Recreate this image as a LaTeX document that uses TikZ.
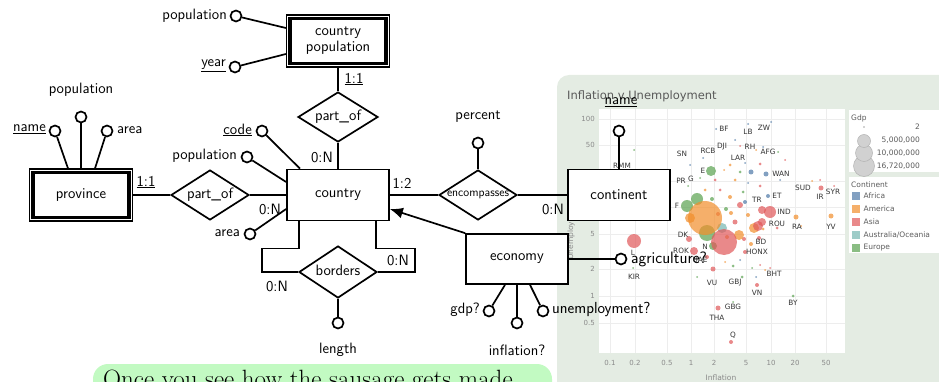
\documentclass[tikz,border=0pt]{standalone}
\usepackage{fontspec}
\newfontfamily\chartfont{DejaVu Sans}
\usetikzlibrary{shapes.geometric,arrows.meta}
\definecolor{panelbg}{HTML}{E4ECE3}
\definecolor{gridc}{HTML}{EDEDED}
\definecolor{tickc}{HTML}{8A8A8A}
\definecolor{labc}{HTML}{333333}
\definecolor{afr}{HTML}{4E79A7}
\definecolor{ame}{HTML}{F28E2B}
\definecolor{asi}{HTML}{E15759}
\definecolor{aus}{HTML}{76B7B2}
\definecolor{eur}{HTML}{59A14F}
\definecolor{notebg}{HTML}{C2FAC2}
\begin{document}
\begin{tikzpicture}[x=1pt,y=-1pt,
  erf/.style={font=\sffamily\fontsize{15}{18}\selectfont},
  erline/.style={line width=1.7pt},
  ent/.style={draw, line width=1.7pt, fill=white, minimum width=102pt, minimum height=51pt, inner sep=0pt, erf, align=center},
  wkouter/.style={draw, line width=1.2pt, fill=white, minimum width=103pt, minimum height=52pt, inner sep=0pt, erf, align=center},
  reldia/.style={diamond, draw, line width=1.7pt, fill=white, minimum width=78pt, minimum height=50pt, inner sep=0pt},
  attr/.style={circle, draw, line width=1.7pt, fill=white, minimum size=11pt, inner sep=0pt},
  tick/.style={font=\chartfont\fontsize{7}{8}\selectfont, text=tickc, inner sep=0pt},
  code/.style={font=\chartfont\fontsize{7.3}{8}\selectfont, text=labc, inner sep=0pt},
  leg/.style={font=\chartfont\fontsize{7.5}{8}\selectfont, text=labc!80, inner sep=0pt},
  bub/.style={fill opacity=0.7, draw=none}
]
\clip (0,0) rectangle (939,382);
% ---------------- chart panel ----------------
\fill[panelbg, rounded corners=12pt] (557,75) rectangle (980,420);
\node[anchor=west, font=\chartfont\fontsize{11.5}{13}\selectfont, text=black!65, inner sep=0pt] (ctitle) at (567,96) {Inflation v Unemployment};
\fill[white] (599,109) rectangle (845,353);
\foreach \gx in {610,635,667,691,714,746,771,795,826}
  \draw[gridc, line width=0.7pt] (\gx,109) -- (\gx,353);
\foreach \gy in {119,145,181,207,234,269,296,323}
  \draw[gridc, line width=0.7pt] (599,\gy) -- (845,\gy);
\foreach \gy/\t in {119/100,145/50,234/5,269/2,296/1,323/0.5}
  \node[tick, anchor=east] at (595,\gy) {\t};
\foreach \gx/\t in {610/0.1,635/0.2,667/0.5,691/1,714/2,746/5,771/10,795/20,826/50}
  \node[tick] at (\gx,363) {\t};
\node[tick, font=\chartfont\fontsize{7.5}{8}\selectfont] (xtitle) at (721,378) {Inflation};
\node[tick, font=\chartfont\fontsize{7.5}{8}\selectfont, rotate=90] (ytitle) at (571,231) {Unemployment};
% small dots
\foreach \px/\py/\pr/\pc in {716/129/1/afr,748/124/1/afr,771/122/1/afr,735/140/1/afr,740/146/1/asi,763/147/1/afr,756/150/1/ame,778/152/1/eur,703/158/1/afr,690/165/1/afr,730/165/1.5/ame,745/163/1/afr,760/164/1.5/asi,724/170/1/ame,740/172/1.5/eur,751/172/2.5/afr,700/178/1/eur,715/180/1.5/asi,735/180/1.5/ame,748/183/1/afr,760/186/1.5/asi,688/186/1/eur,705/190/1.5/ame,720/190/1.5/asi,743/192/1.5/eur,730/197/2/ame,712/199/2/eur,740/205/3/asi,745/202/2/afr,726/209/2/eur,718/214/2/asi,731/213/2/ame,748/215/2/ame,735/222/2.5/asi,727/237/2/ame,689/239/3/asi,744/239/2/asi,751/244/2/ame,759/238/2/asi,707/257/2/asi,713/269/2.5/asi,745/252/2/asi,725/262/1/ame,733/266/1.5/eur,740/260/1/afr,752/268/1/eur,760/265/1/asi,770/268/1/asi,697/277/1/eur,742/277/1.5/eur,756/277/1/afr,765/270/1/ame,718/308/2.5/asi,731/342/2/asi,757/285/2/asi,793/296/1.5/eur,733/302/1/eur,633/268/1/eur,634/150/1/eur,812/181/1/ame,820/180/1/asi,834/186/1/asi,801/226/1/ame,780/180/1/afr,785/160/1/asi,777/228/1.5/asi,763/229/1.5/ame,766/174/2.5/afr,768/196/2/afr,821/188/2.5/asi,796/217/2.5/ame,831/216/2.5/ame,762/210/4/asi,770/212/6/asi,762/222/4/asi,754/228/5/ame,758/226/5/asi,739/235/5/ame,722/228/5/aus,694/251/4/asi,713/246/4/eur,690/218/5/ame,711/171/5/eur,687/206/6/eur,697/199/6/eur,634/241/7/asi}
  \fill[\pc, bub] (\px,\py) circle (\pr);
\fill[eur, bub] (707,233) circle (8);
\fill[ame, bub] (705,218) circle (17);
\fill[asi, bub] (724,242) circle (13);
% country codes
\foreach \cx/\cy/\ct in {724/129/BF,748/132/LB,764/128/ZW,682/154/SN,708/151/RCB,722/147/DJI,750/147/RH,768/152/AFG,738/158/LAR,703/171/E,781/174/WAN,681/181/PR,691/179/G,803/188/SUD,820/197/IR,833/192/SYR,757/200/TR,777/196/ET,677/206/F,784/212/IND,777/224/ROU,797/227/RA,831/227/YV,683/235/DK,761/242/BD,705/247/N,681/251/ROK,757/252/HONX,633/253/L,700/260/UAE,634/277/KIR,774/274/BHT,712/283/VU,735/283/GBJ,757/293/VN,793/303/BY,733/307/GBG,717/318/THA,733/335/Q,622/166/RMM}
  \node[code] at (\cx,\cy) {\ct};
% legends
\fill[white] (849,110) rectangle (945,172);
\fill[white] (849,177) rectangle (945,253);
\node[leg, anchor=west] (gdpt) at (851,118) {Gdp};
\fill[black!35] (864,127) circle (0.9);
\node[leg, anchor=east] at (920,127) {2};
\filldraw[fill=black!18, draw=black!30, line width=0.5pt] (864,166) circle (10.5);
\filldraw[fill=black!18, draw=black!30, line width=0.5pt] (864,153) circle (8.5);
\filldraw[fill=black!18, draw=black!30, line width=0.5pt] (864,141) circle (6.5);
\node[leg, anchor=east] at (920,140) {5,000,000};
\node[leg, anchor=east] at (920,153) {10,000,000};
\node[leg, anchor=east] at (920,166) {16,720,000};
\node[leg, anchor=west] (contt) at (851,185) {Continent};
\foreach \ly/\lc/\lt in {196/afr/{Africa},209/ame/{America},222/asi/{Asia},235/aus/{Australia/Oceania},248/eur/{Europe}}{
  \fill[\lc, opacity=0.7] (852,\ly-4) rectangle (860,\ly+4);
  \node[leg, anchor=west] at (863.5,\ly) {\lt};
}
% ---------------- note box ----------------
\fill[notebg, rounded corners=15pt] (93,364) rectangle (552,420);
\node[anchor=base west, inner sep=0pt, font=\rmfamily\fontsize{25}{30}\selectfont] (note) at (103,387.5) {Once you see how the sausage gets made};
% ---------------- ER diagram ----------------
% weak entity country population
\node[wkouter] (cp) at (338,41) {country\\[-2pt]population};
\draw[line width=3.5pt] ([xshift=4.3pt,yshift=-4.3pt]cp.north west) rectangle ([xshift=-4.3pt,yshift=4.3pt]cp.south east);
\node[attr] (cppop) at (236,16) {};
\node[attr] (cpyear) at (235,67) {};
\node[erf, anchor=east, inner sep=1pt] (cppopt) at (228,16) {population};
\node[erf, anchor=east, inner sep=1pt] (cpyeart) at (227,66) {\underline{year}};
\draw[erline] (cppop) -- ([yshift=13pt]cp.west);
\draw[erline] (cpyear) -- ([yshift=-13pt]cp.west);
% part_of (top)
\node[reldia, minimum width=80pt] (po2) at (338,117) {};
\node[erf, inner sep=0pt] (po2t) at (338,117) {part\_of};
\node[ent] (country) at (338,195) {country};
\draw[erline] (cp.south) -- (po2.north);
\draw[erline] (po2.south) -- (country.north);
\node[erf, inner sep=0pt] (c1) at (354,79) {\underline{1:1}};
\node[erf, inner sep=0pt] (c2) at (322,157) {0:N};
% province
\node[wkouter] (prov) at (81,195) {province};
\draw[line width=3.5pt] ([xshift=4.3pt,yshift=-4.3pt]prov.north west) rectangle ([xshift=-4.3pt,yshift=4.3pt]prov.south east);
\node[attr] (prname) at (55,131) {};
\node[attr] (prpop) at (81,117) {};
\node[attr] (prarea) at (107,131) {};
\node[erf, anchor=east, inner sep=1pt] (prnamet) at (47,129) {\underline{name}};
\node[erf, inner sep=0pt] (prpopt) at (81,90) {population};
\node[erf, anchor=west, inner sep=1pt] (prareat) at (116,130) {area};
\draw[erline] (prname) -- ([xshift=-13pt]prov.north);
\draw[erline] (prpop) -- (prov.north);
\draw[erline] (prarea) -- ([xshift=14pt]prov.north);
% part_of (left)
\node[reldia] (po1) at (210,195) {};
\node[erf, inner sep=0pt] (po1t) at (210,195) {part\_of};
\draw[erline] (prov.east) -- (po1.west);
\draw[erline] (po1.east) -- (country.west);
\node[erf, inner sep=0pt] (c3) at (146,182) {\underline{1:1}};
\node[erf, inner sep=0pt] (c4) at (270,209) {0:N};
% country attributes
\node[attr] (ccode) at (262,131) {};
\node[attr] (cpop) at (247,157) {};
\node[attr] (carea) at (250,234) {};
\node[erf, anchor=east, inner sep=1pt] (ccodet) at (253,130) {\underline{code}};
\node[erf, anchor=east, inner sep=1pt] (cpopt) at (238,156) {population};
\node[erf, anchor=east, inner sep=1pt] (careat) at (241,233) {area};
\draw[erline] (ccode) -- ([xshift=-38pt]country.north);
\draw[erline] (cpop) -- ([yshift=13pt]country.west);
\draw[erline] (carea) -- ([yshift=-14pt]country.west);
% encompasses
\node[reldia] (enc) at (478,195) {};
\node[erf, font=\sffamily\fontsize{12}{14}\selectfont, inner sep=0pt] (enct) at (478,195) {encompasses};
\node[attr] (perc) at (478,143) {};
\node[erf, inner sep=0pt] (perct) at (478,117) {percent};
\node[ent] (cont) at (619,195) {continent};
\draw[erline] (perc) -- (enc.north);
\draw[erline] (country.east) -- (enc.west);
\draw[erline] (enc.east) -- (cont.west);
\node[erf, inner sep=0pt] (c5) at (402,183) {1:2};
\node[erf, inner sep=0pt] (c6) at (553,209) {0:N};
\node[attr] (cname) at (619,131) {};
\node[erf, inner sep=1pt] (cnamet) at (621,102) {\underline{name}};
\draw[erline] (cname) -- (cont.north);
% economy
\node[ent, minimum height=50pt] (eco) at (517,259) {economy};
\draw[erline, -{Latex[length=13pt,width=11pt]}] (eco.north west) -- ([yshift=-14pt]country.east);
\node[attr] (agr) at (621,259) {};
\node[erf, anchor=west, inner sep=0pt, font=\sffamily\fontsize{16.5}{18}\selectfont] (agrt) at (631,259) {agriculture?};
\draw[erline] (eco.east) -- (agr);
\node[attr] (gdp) at (489,311) {};
\node[attr] (infl) at (517,323) {};
\node[attr] (unemp) at (543,311) {};
\node[erf, anchor=east, inner sep=1pt] (gdpt2) at (481,310) {gdp?};
\node[erf, inner sep=0pt] (inflt) at (517,350) {inflation?};
\node[erf, anchor=west, inner sep=0pt, font=\sffamily\fontsize{16}{18}\selectfont] (unempt) at (552,310) {unemployment?};
\draw[erline] (gdp) -- ([xshift=-12pt]eco.south);
\draw[erline] (infl) -- (eco.south);
\draw[erline] (unemp) -- ([xshift=13pt]eco.south);
% borders
\node[reldia, minimum height=52pt] (bord) at (338,272) {};
\node[erf, inner sep=0pt] (bordt) at (338,270) {borders};
\draw[erline] ([xshift=-39pt]country.south) -- ++(0,27) -- ++(-37,0) |- (bord.west);
\draw[erline] ([xshift=38pt]country.south) -- ++(0,27) -- ++(39,0) |- (bord.east);
\node[erf, inner sep=0pt] (c7) at (398,260) {0:N};
\node[erf, inner sep=0pt] (c8) at (277,286) {0:N};
\node[attr] (len) at (338,323) {};
\node[erf, inner sep=0pt] (lent) at (338,350) {length};
\draw[erline] (bord.south) -- (len);
\end{tikzpicture}
\end{document}
